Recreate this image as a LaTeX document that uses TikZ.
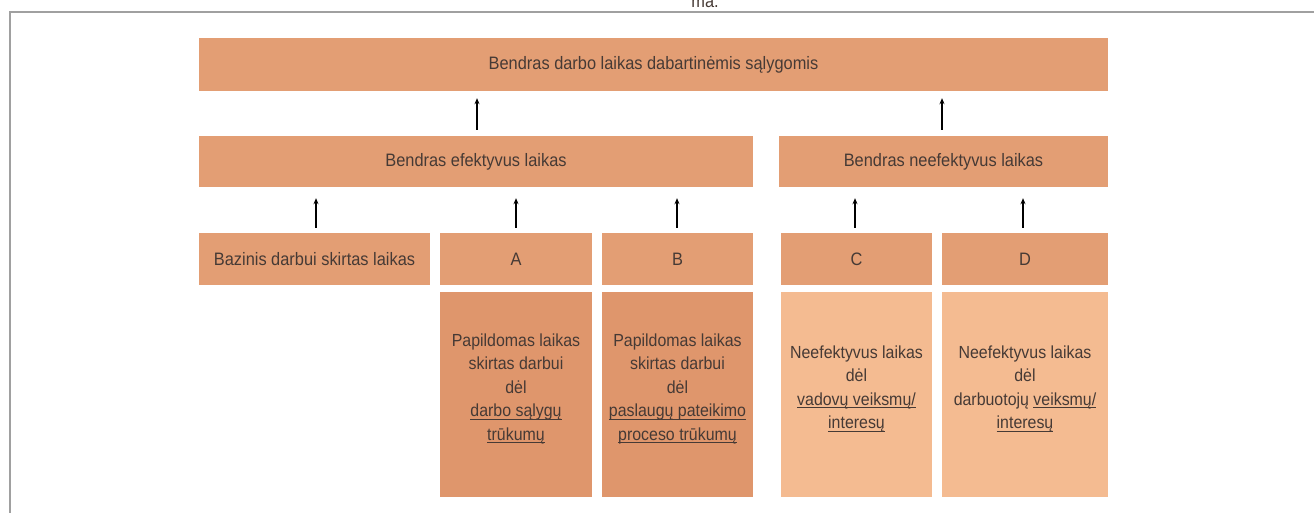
\documentclass[tikz,border=0pt]{standalone}
\usepackage{fontspec}
\setmainfont{Liberation Sans}[FakeStretch=0.91]
\usetikzlibrary{arrows.meta}
\definecolor{boxc}{HTML}{E39E74}
\definecolor{boxab}{HTML}{DF966C}
\definecolor{boxcd}{HTML}{F4BB91}
\definecolor{txt}{HTML}{463A35}
\definecolor{framec}{HTML}{A0A0A0}
\newcommand\myul[1]{\setbox0\hbox{#1}\leavevmode\rlap{\raisebox{-3pt}{\rule{\wd0}{0.9pt}}}\box0}
\begin{document}
\begin{tikzpicture}[x=1pt,y=-1pt,
  box/.style={fill=boxc, draw=none, inner sep=0pt, text=txt, align=center,
    font=\fontsize{18}{23.5}\selectfont},
  tall/.style={box, minimum height=205pt, text depth=15pt, font=\fontsize{17.5}{23.5}\selectfont},
  up/.style={-{Stealth[length=6pt,width=5pt]}, line width=2pt, black}]
\clip (0,0) rectangle (1314,513);
\fill[white] (0,0) rectangle (1314,513);
\draw[framec, line width=2pt] (10,513) -- (10,12) -- (1314,12);
\node[anchor=base, text=txt, font=\fontsize{18}{20}\selectfont] (ma) at (705,8) {ma.};

\node[box, minimum width=909pt, minimum height=53pt] (total) at (653.5,64.5) {Bendras darbo laikas dabartinėmis sąlygomis};

\node[box, minimum width=554pt, minimum height=51pt] (eff) at (476,161.5) {Bendras efektyvus laikas};
\node[box, minimum width=329pt, minimum height=51pt] (neff) at (943.5,161.5) {Bendras neefektyvus laikas};

\node[box, minimum width=231pt, minimum height=52pt] (baz) at (314.5,259) {Bazinis darbui skirtas laikas};
\node[box, minimum width=152pt, minimum height=52pt] (A) at (516,259) {A};
\node[box, minimum width=151pt, minimum height=52pt] (B) at (677.5,259) {B};
\node[box, minimum width=151pt, minimum height=52pt] (C) at (856.5,259) {C};
\node[box, minimum width=166pt, minimum height=52pt] (D) at (1025,259) {D};

\node[tall, fill=boxab, minimum width=152pt] (Ad) at (516,394.5)
  {Papildomas laikas\\skirtas darbui\\dėl\\\myul{darbo sąlygų}\\\myul{trūkumų}};
\node[tall, fill=boxab, minimum width=151pt] (Bd) at (677.5,394.5)
  {Papildomas laikas\\skirtas darbui\\dėl\\\myul{paslaugų pateikimo}\\\myul{proceso trūkumų}};
\node[tall, fill=boxcd, minimum width=151pt] (Cd) at (856.5,394.5)
  {Neefektyvus laikas\\dėl\\\myul{vadovų veiksmų/}\\\myul{interesų}};
\node[tall, fill=boxcd, minimum width=166pt] (Dd) at (1025,394.5)
  {Neefektyvus laikas\\dėl\\darbuotojų \myul{veiksmų/}\\\myul{interesų}};

\draw[up, shorten <=6pt, shorten >=7pt] ([xshift=1pt]eff.north) -- ([xshift=1pt]eff.north |- total.south);
\draw[up, shorten <=6pt, shorten >=7pt] ([xshift=-1.5pt]neff.north) -- ([xshift=-1.5pt]neff.north |- total.south);
\draw[up, shorten <=5pt, shorten >=11pt] ([xshift=1.5pt]baz.north) -- ([xshift=1.5pt]baz.north |- eff.south);
\draw[up, shorten <=5pt, shorten >=11pt] (A.north) -- (A.north |- eff.south);
\draw[up, shorten <=5pt, shorten >=11pt] ([xshift=-0.5pt]B.north) -- ([xshift=-0.5pt]B.north |- eff.south);
\draw[up, shorten <=5pt, shorten >=11pt] ([xshift=-1.5pt]C.north) -- ([xshift=-1.5pt]C.north |- neff.south);
\draw[up, shorten <=5pt, shorten >=11pt] ([xshift=-2pt]D.north) -- ([xshift=-2pt]D.north |- neff.south);
\end{tikzpicture}
\end{document}
